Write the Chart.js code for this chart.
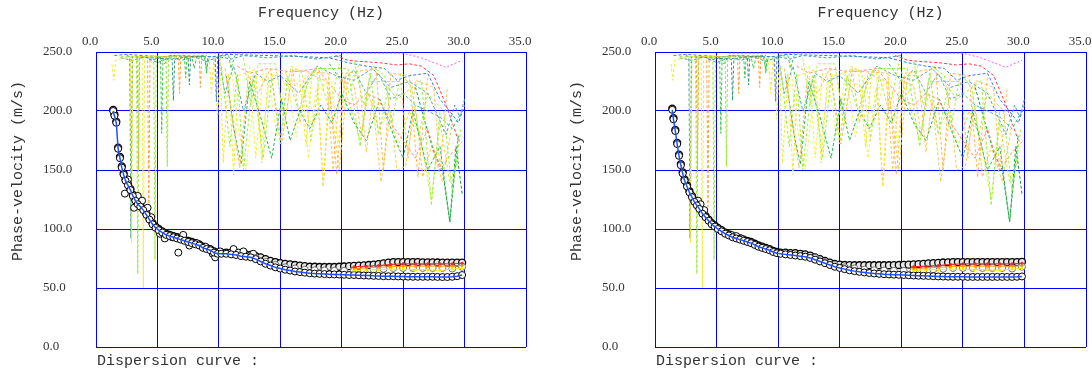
<!DOCTYPE html>
<html>
<head>
<meta charset="utf-8">
<script src="https://cdn.jsdelivr.net/npm/chart.js@4.4.1/dist/chart.umd.min.js"></script>
<style>
  html, body { margin: 0; padding: 0; background: #fff; }
  #wrap { position: relative; width: 1092px; height: 373px; }
  canvas { position: absolute; top: 0; }
  #left { left: 0; }
  #right { left: 559px; }
</style>
</head>
<body>
<div id="wrap">
  <canvas id="left" width="559" height="373"></canvas>
  <canvas id="right" width="533" height="373"></canvas>
</div>
<script>
// axis texts
const xTitle = 'Frequency (Hz)';
const yTitle = 'Phase-velocity (m/s)';
const footText = 'Dispersion curve :';
const freqTicks = [0, 5, 10, 15, 20, 25, 30, 35];
const velTicks = [0, 50, 100, 150, 200, 250];

// picked dispersion curve frequencies (Hz)
const dispFreq = [1.4,1.5,1.65,1.8,1.95,2.1,2.25,2.4,2.6,2.8,
  3.0,3.2,3.4,3.6,3.85,4.1,4.35,4.6,4.85,5.1,
  5.4,5.7,6.0,6.3,6.6,6.9,7.2,7.5,7.8,8.1,
  8.4,8.7,9.0,9.3,9.6,9.9,10.2,10.6,11.0,11.4,
  11.8,12.2,12.6,13.0,13.4,13.8,14.2,14.6,15.0,15.4,
  15.8,16.2,16.6,17.0,17.4,17.8,18.2,18.6,19.0,19.4,
  19.8,20.2,20.6,21.0,21.4,21.8,22.2,22.6,23.0,23.4,
  23.8,24.2,24.6,25.0,25.4,25.8,26.2,26.6,27.0,27.4,
  27.8,28.2,28.6,29.0,29.4,29.8];

// left panel: lower (fundamental) and upper picks, m/s
const lowLeft = [200,196,190,168,160,152,146,141,137,133,
  128,124,121,119,116,112,108,104,101,99,
  97,95,94,93,92,91,90,89,88,87,
  86,84,83,82,80,79,79,79,78.5,78,
  77,76.5,76,74.5,72.5,70.5,69,67.5,66.5,65.5,
  64.8,64,63.5,63,62.5,62.2,62,61.8,61.6,61.5,
  61.4,61.2,61,61,60.8,60.6,60.5,60.3,60.2,60,
  60,60,59.8,59.7,59.6,59.5,59.5,59.5,59.5,59.5,
  59.4,59.3,59.3,59.5,60,61];
const highLeft = [201,197,191,169,161,153,147,142,138,134,
  129,125,122,120,117,113,109,105,102,100,
  98,96,95,94,93,92,91,90,89,88,
  87,85,84,83,81,80,80,80,80,79.5,
  79,78.5,78,77,76,74.5,73,72,71,70.5,
  70,69.5,69,68.5,68,68,67.8,67.8,67.8,67.8,
  68,68.2,68.5,68.8,69,69.2,69.5,69.8,70.2,70.8,
  71.5,72,72,72,72,72,72,71.8,71.8,71.8,
  71.6,71.5,71.5,71.5,71.5,71.5];
const scatterLeftF = [2.35,2.6,3.1,3.4,3.75,4.2,4.5,5.2,5.6,6.2,6.7,7.1,7.6,8.2,8.9,9.5,9.7,10.1,11.2,11.6,12.0,12.8];
const scatterLeftV = [130,142,118,128,124,118,110,96,92,93,80,95,86,88,85,79,76,81,83,80,81,79];

// right panel picks, m/s
const lowRight = [201,193,183,172,162,154,147,141,136,131,
  127,123,120,117,113,110,107,104,102,100,
  98,96,94.5,93,92,91,90,89,88,86.5,
  85,84,83,82,80.5,79.5,79,78.5,78,77.5,
  77,76.5,75.5,74,72.5,71,69.5,68,67,66,
  65,64.3,63.7,63.2,62.7,62.3,62,61.7,61.5,61.3,
  61.2,61,60.8,60.6,60.4,60.3,60.2,60,59.8,59.7,
  59.6,59.5,59.5,59.5,59.4,59.4,59.4,59.4,59.4,59.4,
  59.4,59.4,59.4,59.4,59.5,59.8];
const highRight = [202,194,184,173,163,155,148,142,137,132,
  128,124,121,118,114,111,108,105,103,101,
  99,97,95.5,94,93,92,91,90,89,87.5,
  86,85,84,83,81.5,80.5,80,80,79.5,79.5,
  79,78.5,77.5,76,74.5,73,71.5,70.5,69.8,69.5,
  69.4,69.3,69.3,69.3,69.3,69.3,69.3,69.3,69.3,69.4,
  69.5,69.6,69.8,70,70.2,70.5,70.8,71,71.3,71.6,
  71.8,72,72,72,72,72,72,72,72,72,
  72,72,72,72,72,72.2];
const scatterRightF = [3.5,3.7,4.0,6.2,6.6,7.0];
const scatterRightV = [124,121,116,95,94,92];

// intermediate picks at high frequency (m/s)
const midFreq = [13.0,13.8,14.6,15.4,16.2,17.0,17.8,18.6,19.4,20.2,21.0,21.8,22.6,23.4,24.2,25.0,25.8,26.6,27.4,28.2,29.0,29.8];
const midVel = [75.5,72,69.5,67.5,66.5,65.5,65,64.8,64.6,64.5,64.8,65.2,65.8,66.3,67,67,67,67,67,67,66.5,68];
const colorFreq = [21,22,23,24,25,26,27,28,29,29.8];
const redVel = [68,68.5,69,70,70.5,70.5,70.5,70.5,70.5,71];
const orangeVel = [66.5,67,67.5,68,68.5,68.5,68.5,68.5,68.5,69];
const yellowVel = [65,65.5,65.5,66,66,65.5,65.5,65,66,66.5];

// dashed dispersion-image contours [Hz, m/s]
const modeYellowA = [[1.3,240],[1.45,226],[1.6,243],[2.8,246],[2.9,88],[3.0,246],[3.75,246],[3.85,50],[3.95,246],[5.0,247]];
const modeLimeA = [[2.0,246],[3.3,246],[3.4,62],[3.5,246],[4.7,246],[4.8,74],[4.9,246],[5.7,246],[5.8,153],[5.9,246],[7.0,247]];
const modeTealA = [[2.5,247],[2.75,246],[2.85,92],[2.95,246],[6.2,244],[6.3,209],[6.4,244],[7.5,246],[7.6,222],[7.7,246],[9.0,247]];
const modeOrangeA = [[3.2,246],[3.35,246],[3.45,150],[3.55,246],[4.2,246],[4.3,119],[4.4,246],[6.7,246],[6.8,215],[6.9,246],[8.4,246],[8.5,220],[8.6,246]];
const modeGreenA = [[4.0,247],[5.25,246],[5.35,181],[5.45,246],[7.2,246],[7.3,228],[7.4,246],[8.9,246],[9.0,232],[9.1,246]];
const modeBlueA = [[1.5,247],[2.5,248],[3.8,247],[4.5,243],[5.5,246],[6.5,247],[9.7,246],[9.8,208],[9.9,246],[10.5,248]];
const modeTopA = [[2,245],[3,243],[4,246],[5,241],[6,245],[7,243],[8,246],[9,242],[10,246],[11,244],[12,247],[14,245],[16,247],[18,244],[20,247]];
const modeTopB = [[5,247],[5.6,240],[6,247],[7.8,246],[8.0,236],[8.2,246],[8.8,246],[9.0,235],[9.2,246],[10.8,247],[11,236],[11.3,247]];
const modeYellowB = [[9.2,246],[9.4,215],[9.6,246],[9.9,193],[10.1,246],[10.35,156],[10.8,232],[11.2,146],[11.6,230],[13.0,235],[13.5,156],[14.0,228],[16.5,236],[17.1,170],[17.6,235],[18.0,232],[18.5,136],[19.0,232]];
const modeOrangeB = [[10.5,236],[11.0,200],[11.7,152],[12.4,230],[13.2,215],[14.2,236],[15.1,172],[16.0,234],[18.9,232],[19.6,146],[20.3,232],[22.8,236],[23.4,149],[24.0,232],[25.5,230],[26.2,144],[27.0,230]];
const modeLimeB = [[10.2,238],[10.9,170],[11.5,232],[12.0,150],[12.8,230],[13.6,160],[14.3,228],[15.0,172],[15.6,230],[16.5,200],[17.3,225],[18.0,236],[20.5,236],[21.5,170],[22.3,232],[23.0,180],[23.8,220],[24.5,210],[26.5,226],[27.3,120],[28.0,200]];
const modeGreenB = [[10.6,230],[11.3,180],[11.8,155],[12.5,225],[13.4,195],[14.3,160],[15.1,210],[15.8,175],[16.6,200],[17.4,185],[18.3,205],[19.2,190],[20.0,215],[21.0,190],[22.0,175],[23.1,210],[24.2,180],[25.0,160],[25.8,200],[27.0,150],[28.0,170],[28.8,106],[29.5,180]];
const modeTealB = [[10.0,245],[10.5,215],[11.2,238],[12.0,200],[13.0,232],[14.0,225],[15.0,230],[16.5,215],[18.0,238],[19.5,230],[21.0,226],[22.5,236],[24.0,220],[25.5,225],[27.0,215],[28.5,180],[29.2,205],[29.6,195],[30.0,210]];
const modeYellowC = [[11.0,240],[11.5,190],[12.2,150],[12.9,215],[13.5,175],[14.1,225],[14.7,180],[15.5,232],[16.3,178],[17.0,228],[17.8,190],[18.6,226]];
const modeLimeC = [[12,245],[12.6,205],[13.2,240],[14.6,240],[15.2,200],[15.9,238],[16.8,232],[17.5,175],[18.2,230],[19.0,200],[19.8,240],[20.6,215],[21.4,240]];
const modeYellowD = [[12.5,238],[13.0,160],[13.6,232],[14.8,230],[15.3,185],[15.9,226],[16.8,220],[17.3,160],[17.9,218],[19.2,225],[19.7,170],[20.2,225]];
const modeOrangeC = [[16,236],[16.6,190],[17.3,232],[18.8,225],[19.3,150],[19.9,226],[21.0,222],[21.6,180],[22.2,225],[24.8,225],[25.4,160],[26.0,226],[27.5,220],[28.0,150],[28.6,220]];
const modeLimeD = [[21,242],[21.8,205],[22.5,238],[23.5,230],[24.1,190],[24.8,232],[25.7,220],[26.3,180],[27.0,215],[28.3,200],[29.0,130],[29.7,185]];
const modeTealC = [[19,240],[20,225],[21,235],[22,215],[23,232],[24,210],[25,215],[26,205],[27,200],[28,195],[29,185],[29.8,200]];
const modeSalmon = [[11.5,238],[12.5,232],[14,236],[16,233],[18,236],[20,210],[21,205],[22,215],[23,210],[24,190],[25,175],[26,160],[27,185],[28,150],[29,165],[29.8,174]];
const modeAmber = [[18,220],[18.5,136],[19,215],[19.8,150],[20.5,230],[21.4,230],[22.0,165],[22.5,210],[23.2,140],[24.0,200],[24.5,150],[25.2,153],[26.0,205],[26.6,144],[27.3,170],[28.2,140],[29.0,190]];
const modeYellowGreen = [[20,228],[20.8,200],[21.5,175],[22.2,215],[23.0,185],[23.8,200],[24.6,170],[25.5,200],[26.4,178],[27.3,125],[28.0,190],[28.8,140],[29.5,160]];
const modeDarkGreen = [[26,220],[26.8,190],[27.5,165],[28.2,150],[28.8,106],[29.3,170],[29.8,130]];
const modeRed = [[19.5,247],[20.5,243],[21.5,242],[23,241],[24.5,239],[25.5,240],[26.5,238],[27.5,230],[28.5,205],[29.5,175]];
const modeBlueB = [[10.5,248],[14,247],[17,246],[19,245],[20.5,241],[22,238],[23.5,236],[24.5,226],[25.5,230],[27,232],[28,210],[29,197],[29.5,190],[30,205]];
const modePink = [[6,249],[10,249],[15,249],[20,249],[25,249],[26.5,245],[28.5,237],[29.8,243]];

const dashed = [
  [modeYellowA, '#ecec30'], [modeLimeA, '#98e830'], [modeTealA, '#30907a'],
  [modeOrangeA, '#ffa030'], [modeGreenA, '#38c848'], [modeBlueA, '#4878f0'],
  [modeTopA, '#40a0a0'], [modeTopB, '#40c850'],
  [modeYellowB, '#f2e830'], [modeOrangeB, '#ffb850'], [modeLimeB, '#98f040'],
  [modeGreenB, '#28b848'], [modeTealB, '#50a898'], [modeYellowC, '#f4f060'],
  [modeLimeC, '#b4f050'], [modeYellowD, '#f8f040'], [modeOrangeC, '#ffc060'],
  [modeLimeD, '#a8f048'], [modeTealC, '#58b0a0'],
  [modeSalmon, '#ff9078'], [modeAmber, '#ffc848'],
  [modeYellowGreen, '#ccf030'], [modeDarkGreen, '#189848'], [modeRed, '#ff3848'],
  [modeBlueB, '#3878e0'], [modePink, '#ff58ff']
];

const xy = (f, v) => f.map((x, i) => ({ x: x, y: v[i] }));
const pairs = p => p.map(([x, y]) => ({ x: x, y: y }));

const titles = {
  id: 'titles',
  afterDraw(chart) {
    const c = chart.ctx;
    const a = chart.chartArea;
    c.save();
    c.fillStyle = '#333';
    c.font = '15px "Liberation Mono"';
    c.textBaseline = 'middle';
    c.textAlign = 'center';
    c.fillText(xTitle, (a.left + a.right) / 2 + 10, 13);
    c.textAlign = 'left';
    c.fillText(footText, a.left + 1, 361);
    c.translate(18, 171);
    c.rotate(-Math.PI / 2);
    c.textAlign = 'center';
    c.fillText(yTitle, 0, 0);
    c.restore();
  }
};

function buildChart(id, low, high, scatF, scatV, padRight) {
  const datasets = [];
  datasets.push({
    data: xy(dispFreq, low), showLine: true, borderColor: '#2050ff', borderWidth: 1.5,
    pointRadius: 0, order: 0
  });
  datasets.push({
    data: xy(colorFreq, redVel), showLine: true, borderColor: '#ff2020', borderWidth: 1,
    pointRadius: 1.5, pointBackgroundColor: '#ff2020', pointBorderWidth: 0, order: 1
  });
  datasets.push({
    data: xy(colorFreq, orangeVel), showLine: true, borderColor: '#ff9a00', borderWidth: 1,
    pointRadius: 1.5, pointBackgroundColor: '#ff9a00', pointBorderWidth: 0, order: 1
  });
  datasets.push({
    data: xy(colorFreq, yellowVel), showLine: true, borderColor: '#f0f000', borderWidth: 1,
    pointRadius: 1.5, pointBackgroundColor: '#f0f000', pointBorderWidth: 0, order: 1
  });
  datasets.push({
    data: xy(dispFreq, low), pointRadius: 3.5, pointBorderWidth: 1,
    pointBorderColor: '#000', pointBackgroundColor: '#fff', order: 2
  });
  datasets.push({
    data: xy(midFreq, midVel), pointRadius: 3.5, pointBorderWidth: 1,
    pointBorderColor: '#707070', pointBackgroundColor: '#fff', order: 3
  });
  datasets.push({
    data: xy(scatF, scatV), pointRadius: 3.5, pointBorderWidth: 1,
    pointBorderColor: '#000', pointBackgroundColor: '#fff', order: 3
  });
  datasets.push({
    data: xy(dispFreq, high), pointRadius: 3.5, pointBorderWidth: 1.3,
    pointBorderColor: '#000', pointBackgroundColor: '#e8e8e8', order: 4
  });
  dashed.forEach(([p, col]) => {
    datasets.push({
      data: pairs(p), showLine: true, borderColor: col, borderWidth: 1,
      borderDash: col === '#ff58ff' ? [2, 2] : [3, 2], pointRadius: 0, order: 10
    });
  });

  const tickFont = { family: 'Liberation Serif', size: 13 };
  return new Chart(document.getElementById(id), {
    type: 'scatter',
    data: { datasets },
    options: {
      responsive: false,
      animation: false,
      devicePixelRatio: 1,
      layout: { padding: { left: 43, right: padRight, top: 0, bottom: 26 } },
      plugins: { legend: { display: false }, tooltip: { enabled: false } },
      scales: {
        x: {
          type: 'linear', position: 'top', min: freqTicks[0], max: freqTicks[freqTicks.length - 1],
          afterBuildTicks: s => { s.ticks = freqTicks.map(v => ({ value: v })); },
          ticks: {
            color: '#333', font: tickFont, padding: 3, labelOffset: -6,
            maxRotation: 0, autoSkip: false, callback: v => Number(v).toFixed(1)
          },
          grid: { color: '#0000ff', lineWidth: 1, drawTicks: false },
          border: { color: '#0000ff' },
          afterFit: s => { s.height = 52; s.paddingLeft = 0; s.paddingRight = 0; }
        },
        y: {
          type: 'linear', min: velTicks[0], max: velTicks[velTicks.length - 1],
          afterBuildTicks: s => { s.ticks = velTicks.map(v => ({ value: v })); },
          ticks: {
            color: '#333', font: tickFont, crossAlign: 'far',
            autoSkip: false, callback: v => Number(v).toFixed(1)
          },
          grid: { color: '#0000ff', lineWidth: 1, drawTicks: false },
          border: { color: '#0000ff' },
          afterFit: s => { s.width = 53; s.paddingTop = 0; s.paddingBottom = 0; }
        }
      }
    },
    plugins: [titles]
  });
}

buildChart('left', lowLeft, highLeft, scatterLeftF, scatterLeftV, 33);
buildChart('right', lowRight, highRight, scatterRightF, scatterRightV, 6);
</script>
</body>
</html>
